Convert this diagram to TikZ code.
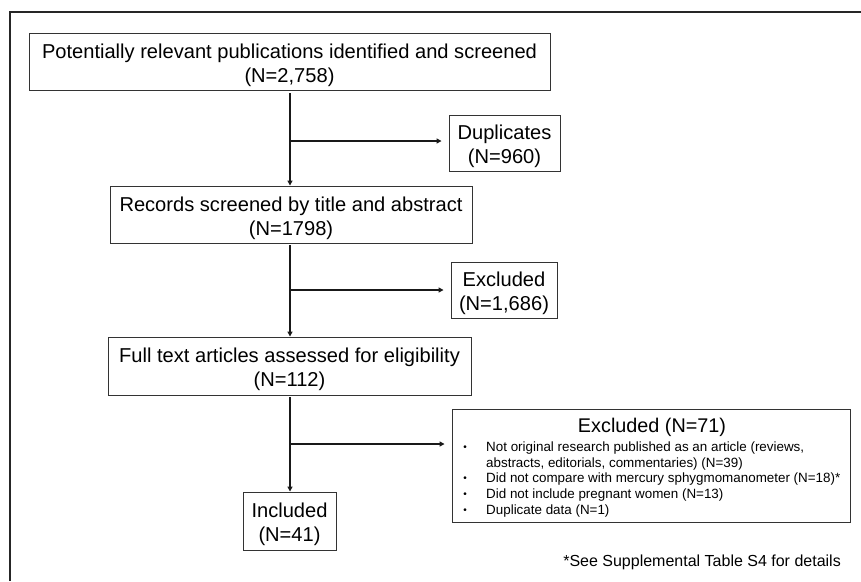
\documentclass[tikz,border=0pt]{standalone}
\usepackage{fontspec}
\setmainfont{Liberation Sans}
\usetikzlibrary{arrows.meta}
\begin{document}
\begin{tikzpicture}[x=1pt,y=-1pt,
  box/.style={draw=black!80,line width=0.9pt,inner sep=0pt},
  txt/.style={inner sep=0pt,align=center,font=\fontsize{20.1}{24}\selectfont,yshift=-3.5pt},
  conn/.style={line width=1.3pt,draw=black!90},
  arr/.style={conn,-{Triangle[length=5pt,width=5pt]}},
  item/.style={anchor=west,inner sep=0pt,font=\fontsize{13.4}{16}\selectfont,align=left},
  dot/.style={inner sep=0pt,font=\fontsize{10}{12}\selectfont}]
\useasboundingbox (0,0) rectangle (861,581);
\draw[line width=2pt,black!85] (10,581) -- (10,12) -- (861,12);

\node[box,minimum width=521pt,minimum height=57pt] (b1) at (289.5,61.5) {};
\node[txt] (b1t) at (b1.center) {Potentially relevant publications identified and screened\\(N=2,758)};
\node[box,minimum width=111pt,minimum height=56pt] (dup) at (504.5,143) {};
\node[txt] (dupt) at (dup.center) {Duplicates\\(N=960)};
\node[box,minimum width=362pt,minimum height=57pt] (b2) at (291,214.5) {};
\node[txt] (b2t) at (b2.center) {Records screened by title and abstract\\(N=1798)};
\node[box,minimum width=106pt,minimum height=56pt] (ex1) at (504,290) {};
\node[txt] (ex1t) at (ex1.center) {Excluded\\(N=1,686)};
\node[box,minimum width=363pt,minimum height=58pt] (b3) at (289.5,366) {};
\node[txt] (b3t) at (b3.center) {Full text articles assessed for eligibility\\(N=112)};
\node[box,minimum width=398pt,minimum height=113pt] (ex2) at (651,465.5) {};
\node[box,minimum width=93pt,minimum height=58pt] (inc) at (289.5,521) {};
\node[txt] (inct) at (inc.center) {Included\\(N=41)};

\node[inner sep=0pt,font=\fontsize{19.8}{24}\selectfont] (t2) at (652,427.5) {Excluded (N=71)};
\node[item] (i1) at (486,456) {Not original research published as an article (reviews,\\abstracts, editorials, commentaries) (N=39)};
\node[item] (i2) at (486,479) {Did not compare with mercury sphygmomanometer (N=18)*};
\node[item] (i3) at (486,495) {Did not include pregnant women (N=13)};
\node[item] (i4) at (486,511) {Duplicate data (N=1)};
\node[dot] (d1) at (465,448) {•};
\node[dot] (d2) at (465,479) {•};
\node[dot] (d3) at (465,495) {•};
\node[dot] (d4) at (465,511) {•};

\node[anchor=east,inner sep=0pt,font=\fontsize{16}{19}\selectfont] (fn) at (841,562)
  {*See Supplemental Table S4 for details};

\coordinate (s1) at (290,93);
\coordinate (s2) at (290,245);
\coordinate (s3) at (290,397);
\coordinate (j1) at (290,141);
\coordinate (j2) at (290,290);
\coordinate (j3) at (290,444);
\draw[arr] (s1) -- (b2.north -| s1);
\draw[arr] (s2) -- (b3.north -| s2);
\draw[arr] (s3) -- (inc.north -| s3);
\draw[arr,shorten >=7pt] (j1) -- (j1 -| dup.west);
\draw[arr,shorten >=7pt] (j2) -- (j2 -| ex1.west);
\draw[arr,shorten >=7pt] (j3) -- (j3 -| ex2.west);
\end{tikzpicture}
\end{document}
